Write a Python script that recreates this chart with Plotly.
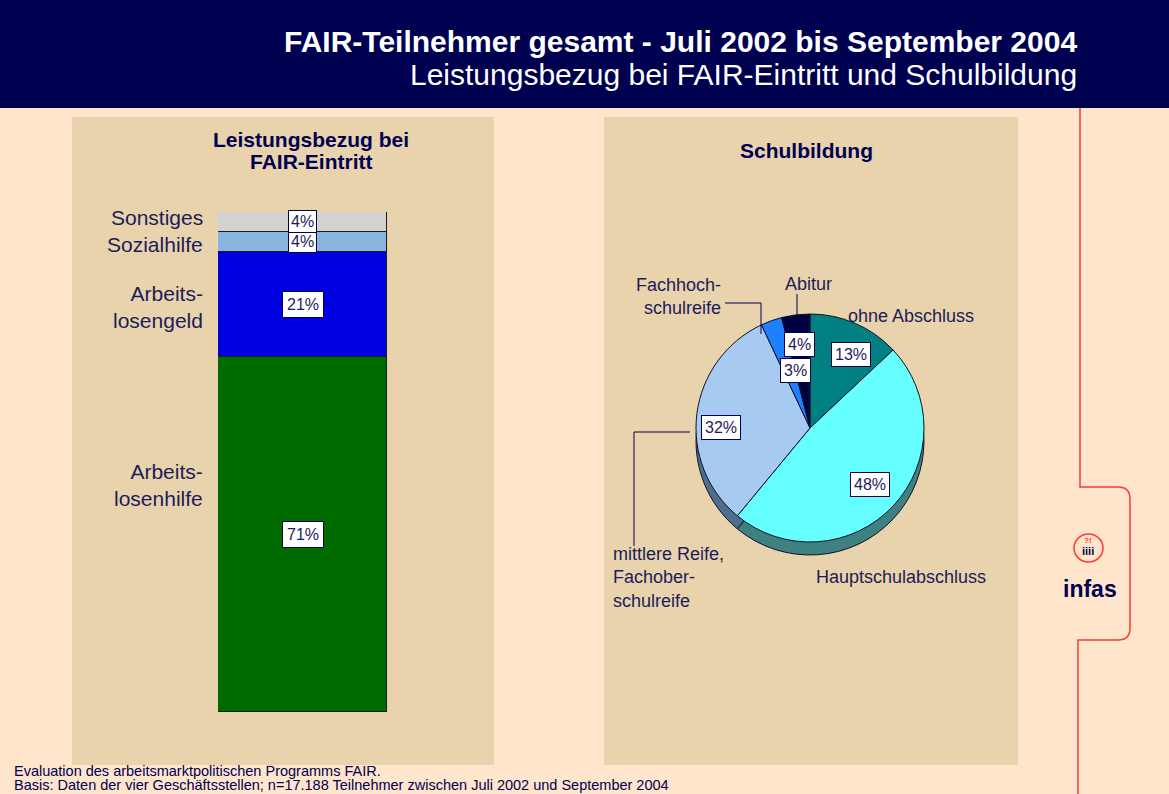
import plotly.graph_objects as go
import math

# ---------------- data ----------------
bar_categories = ["Arbeitslosenhilfe", "Arbeitslosengeld", "Sozialhilfe", "Sonstiges"]
bar_labels = ["Arbeits-<br>losenhilfe", "Arbeits-<br>losengeld", "Sozialhilfe", "Sonstiges"]
bar_values = [71, 21, 4, 4]

pie_categories = ["ohne Abschluss", "Hauptschulabschluss",
                  "mittlere Reife, Fachoberschulreife", "Fachhochschulreife", "Abitur"]
pie_values = [13, 48, 32, 3, 4]

title_main = "FAIR-Teilnehmer gesamt - Juli 2002 bis September 2004"
title_sub = "Leistungsbezug bei FAIR-Eintritt und Schulbildung"
footer_lines = ["Evaluation des arbeitsmarktpolitischen Programms FAIR.",
                "Basis: Daten der vier Geschäftsstellen; n=17.188 Teilnehmer zwischen Juli 2002 und September 2004"]

# ---------------- styling ----------------
W, H = 1169, 794
NAVY = "#000050"
TXT = "#1C1C5A"
PEACH = "#FFE5CC"
TAN = "#E8D3AD"
FONT = "Arial, Liberation Sans, sans-serif"

def px(x):
    return x / W

def py(y):
    return 1 - y / H

bar_colors = ["#006C00", "#0000E0", "#8AB4E0", "#D2D2D2"]
pie_colors = ["#008080", "#66FFFF", "#A6CAF0", "#1E7FFF", "#000040"]
pie_side_colors = ["#004D4D", "#3F8080", "#4F6E8E", "#003399", "#000020"]

fig = go.Figure()

# ---------------- stacked bar ----------------
for cat, val, col in zip(bar_categories, bar_values, bar_colors):
    fig.add_trace(go.Bar(
        x=[0], y=[val], name=cat, width=1,
        marker=dict(color=col, line=dict(color="#1A1A1A", width=1)),
        xaxis="x", yaxis="y", hoverinfo="name+y", showlegend=False,
    ))

bar_x0, bar_x1 = 218, 387
bar_ytop, bar_ybot = 212, 712

# ---------------- pie (with pseudo 3D side) ----------------
pc_x, pc_y, D = 810, 428, 228
depth = 13
fig.add_trace(go.Pie(
    values=pie_values, labels=pie_categories, sort=False, direction="clockwise",
    rotation=0, textinfo="none", hoverinfo="skip",
    marker=dict(colors=pie_side_colors, line=dict(color="#10102A", width=1)),
    domain=dict(x=[px(pc_x - D / 2), px(pc_x + D / 2)],
                y=[py(pc_y + D / 2 + depth), py(pc_y - D / 2 + depth)]),
    showlegend=False,
))
fig.add_trace(go.Pie(
    values=pie_values, labels=pie_categories, sort=False, direction="clockwise",
    rotation=0, textinfo="none", hoverinfo="label+percent",
    marker=dict(colors=pie_colors, line=dict(color="#10102A", width=1)),
    domain=dict(x=[px(pc_x - D / 2), px(pc_x + D / 2)],
                y=[py(pc_y + D / 2), py(pc_y - D / 2)]),
    showlegend=False,
))

annotations = []
shapes = []

def note(text, x, y, size, color=TXT, xa="center", align="center", ya="middle", family=FONT, **kw):
    d = dict(text=text, x=px(x), y=py(y), xref="paper", yref="paper", xanchor=xa,
             yanchor=ya, align=align, showarrow=False,
             font=dict(family=family, size=size, color=color))
    d.update(kw)
    annotations.append(d)

# header
shapes.append(dict(type="rect", xref="paper", yref="paper", x0=0, x1=1,
                   y0=py(108), y1=1, fillcolor=NAVY, line=dict(width=0), layer="below"))
note("<b>" + title_main + "</b>", 1079, 42, 30, color="white", xa="right", align="right")
note(title_sub, 1079, 74, 30, color="white", xa="right", align="right")

# panels
for x0, x1 in [(72, 494), (604, 1018)]:
    shapes.append(dict(type="rect", xref="paper", yref="paper", x0=px(x0), x1=px(x1),
                       y0=py(765), y1=py(117), fillcolor=TAN, line=dict(width=0), layer="below"))

# panel titles
note("<b>Leistungsbezug bei</b>", 311, 140, 21, color=NAVY)
note("<b>FAIR-Eintritt</b>", 311, 162, 21, color=NAVY)
note("<b>Schulbildung</b>", 806, 151, 21, color=NAVY)

# bar labels (category, left) and percent boxes (centered on segments)
label_y_px = [485, 307, 244, 218]
cum = 0
for lab, val, ly in zip(bar_labels, bar_values, label_y_px):
    mid = cum + val / 2
    cum += val
    note(lab, 205, ly, 21, xa="right", align="right")
    annotations.append(dict(text=f"{val}%", x=0, y=mid, xref="x", yref="y",
                            xanchor="center", yanchor="middle", showarrow=False,
                            bgcolor="white", bordercolor=NAVY, borderwidth=1,
                            borderpad=4 if val > 10 else 2,
                            font=dict(family=FONT, size=16, color=TXT)))

# pie percent boxes, placed along each slice's mid angle
radial_frac = [0.74, 0.72, 0.78, 0.52, 0.74]
radial_shift = [0.10, 0.0, -0.12, 0.10, 0.0]
R = D / 2
cum = 0
total = sum(pie_values)
for val, fr, sh in zip(pie_values, radial_frac, radial_shift):
    ang = 2 * math.pi * ((cum + val / 2) / total + sh / (2 * math.pi))
    cum += val
    lx = pc_x + fr * R * math.sin(ang)
    ly = pc_y - fr * R * math.cos(ang)
    note(f"{val}%", lx, ly, 16, bgcolor="white", bordercolor=NAVY, borderwidth=1, borderpad=3)

# pie outer labels
note("ohne Abschluss", 911, 316, 18)
note("Hauptschulabschluss", 901, 577, 18)
note("mittlere Reife,<br>Fachober-<br>schulreife", 611, 577, 18, xa="left", align="left")
note("Fachhoch-<br>schulreife", 723, 296, 18, xa="right", align="right")
note("Abitur", 808, 284, 18)

def line(x0, y0, x1, y1, color=NAVY, w=1):
    shapes.append(dict(type="line", xref="paper", yref="paper", x0=px(x0), y0=py(y0),
                       x1=px(x1), y1=py(y1), line=dict(color=color, width=w)))

# leader lines
line(725, 303, 761, 303)
line(761, 303, 761, 334)
line(797, 294, 797, 327)
line(690, 432, 634, 432)
line(634, 432, 634, 546)

# red decorative line with tab
RED = "#FF3B30"
path = (f"M {px(1080)} {py(108)} L {px(1080)} {py(487)} L {px(1118)} {py(487)} "
        f"Q {px(1130)} {py(487)} {px(1130)} {py(499)} L {px(1130)} {py(628)} "
        f"Q {px(1130)} {py(640)} {px(1118)} {py(640)} L {px(1078)} {py(640)} L {px(1078)} {py(794)}")
shapes.append(dict(type="path", xref="paper", yref="paper", path=path,
                   line=dict(color=RED, width=1.5)))

# logo
shapes.append(dict(type="circle", xref="paper", yref="paper", x0=px(1074), x1=px(1103),
                   y0=py(562), y1=py(534), line=dict(color=RED, width=1.5)))
note("<b>?!</b>", 1088, 540, 8, color=RED)
note("<b>iiii</b>", 1088, 551, 11, color=NAVY)
note("<b>infas</b>", 1090, 589, 23, color=NAVY)

# footer
note(footer_lines[0], 12, 771, 14.5, color=NAVY, xa="left", align="left")
note(footer_lines[1], 12, 785, 14.5, color=NAVY, xa="left", align="left")

fig.update_layout(
    width=W, height=H, autosize=False,
    margin=dict(l=0, r=0, t=0, b=0),
    paper_bgcolor=PEACH, plot_bgcolor="rgba(0,0,0,0)",
    barmode="stack", bargap=0,
    showlegend=False,
    xaxis=dict(domain=[px(bar_x0), px(bar_x1)], range=[-0.5, 0.5], visible=False, fixedrange=True),
    yaxis=dict(domain=[py(bar_ybot), py(bar_ytop)], range=[0, 100], visible=False, fixedrange=True),
    shapes=shapes, annotations=annotations,
    font=dict(family=FONT),
)

fig.write_html("out.html", config={"displayModeBar": False},
               post_script="document.body.style.margin='0';document.body.style.padding='0';"
                           "document.body.style.overflow='hidden';")
